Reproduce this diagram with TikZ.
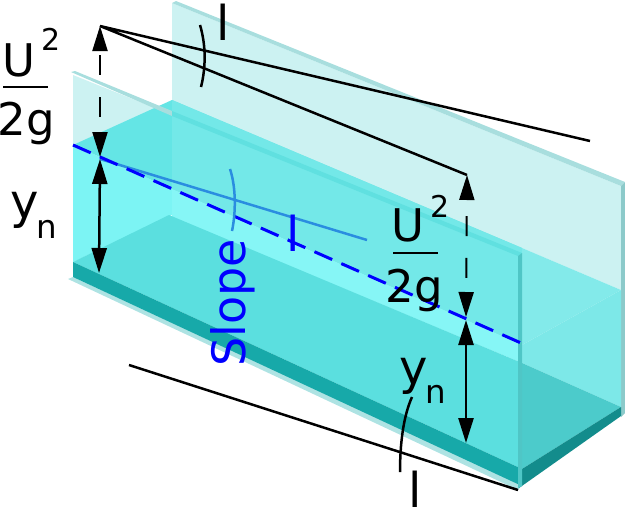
\documentclass[tikz,border=0pt]{standalone}
\usepackage{fontspec}
\setmainfont{DejaVu Sans}
\usetikzlibrary{arrows.meta}
\definecolor{wallpale}{HTML}{CCF2F2}
\definecolor{wallstrip}{HTML}{A8DEDE}
\definecolor{wallend}{HTML}{8CCACA}
\definecolor{frontend}{HTML}{4FC6C6}
\definecolor{surfleft}{HTML}{64E5E5}
\definecolor{surfback}{HTML}{73E8E8}
\definecolor{surfstrip}{HTML}{60E0E0}
\definecolor{brightleft}{HTML}{7CF4F4}
\definecolor{brightright}{HTML}{86F6F6}
\definecolor{floorfront}{HTML}{5BDFDF}
\definecolor{floorend}{HTML}{4CCBCB}
\definecolor{endupper}{HTML}{83EAEA}
\definecolor{endlower}{HTML}{7DE8E8}
\definecolor{slabfront}{HTML}{17A9A9}
\definecolor{slabend}{HTML}{138C8C}
\definecolor{slabpale}{HTML}{AEE3E3}
\definecolor{slopeline}{HTML}{2A8DE0}
\tikzset{
bigtxt/.style={font=\fontsize{28.8}{32}\selectfont,anchor=base,inner sep=0pt},
fractxt/.style={font=\fontsize{27}{32}\selectfont,anchor=base,inner sep=0pt},
subtxt/.style={font=\fontsize{19.5}{24}\selectfont,anchor=base,inner sep=0pt},
suptxt/.style={font=\fontsize{18}{22}\selectfont,anchor=base,inner sep=0pt},
head/.style={line width=1.5pt,{Triangle[length=15pt,width=9pt]}-{Triangle[length=15pt,width=9pt]}},
headdash/.style={head,dash pattern=on 12pt off 13pt}
}
\begin{document}
\begin{tikzpicture}[x=0.6pt,y=-0.6pt]
\useasboundingbox (0,0) rectangle (625,510);
% back wall
\fill[wallpale] (172,3) -- (621,186) -- (621,290) -- (172,100) -- cycle;
\fill[wallstrip] (172,3) -- (176,1) -- (625,182) -- (621,186) -- cycle;
\fill[wallend] (621,186) -- (625,182) -- (625,413) -- (621,417) -- cycle;
% front wall above the water
\fill[wallpale] (73,75) -- (522,256) -- (522,345) -- (73,145) -- cycle;
% water
\fill[surfleft] (73,145) -- (172,100) -- (522,248) -- (522,345) -- cycle;
\fill[surfback] (172,100) -- (522,248) -- (522,345) -- (172,189) -- cycle;
\fill[endupper] (522,248) -- (621,290) -- (522,345) -- cycle;
\fill[endlower] (522,345) -- (621,290) -- (621,407) -- (522,363) -- cycle;
\fill[brightleft] (73,145) -- (172,189) -- (172,215) -- (73,262) -- cycle;
\fill[brightright] (172,189) -- (522,345) -- (522,363) -- (172,217) -- cycle;
% floor
\fill[floorfront] (73,262) -- (169,215) -- (522,363) -- (522,469) -- cycle;
\fill[floorend] (522,363) -- (621,407) -- (522,469) -- cycle;
\fill[slabpale] (68,279) -- (73,277) -- (522,485) -- (518,490) -- cycle;
\fill[slabfront] (73,262) -- (522,469) -- (522,486) -- (73,277) -- cycle;
\fill[slabend] (522,469) -- (621,407) -- (621,416) -- (519,488) -- cycle;
% top edge of front wall
\fill[wallstrip] (71,72) -- (75,71) -- (172,111) -- (172,116) -- cycle;
\fill[surfstrip] (172,111) -- (522,253) -- (518,256) -- (172,116) -- cycle;
\fill[frontend] (518,256) -- (522,253) -- (522,486) -- (518,488) -- cycle;
% points of the lines
\coordinate (apex) at (100,26);
\coordinate (enerEnd) at (590,141);
\coordinate (enerMid) at (467,175);
\coordinate (surfL) at (100,157);
\coordinate (surfLb) at (100,159);
\coordinate (bedL) at (99,273);
\coordinate (surfR) at (466,317);
\coordinate (surfRb) at (466,320);
\coordinate (bedR) at (466,443);
\coordinate (slopeA) at (73,145);
\coordinate (slopeB) at (521,343);
\coordinate (slopeC) at (367,240);
\coordinate (bedA) at (129,365);
\coordinate (bedB) at (518,490);
\coordinate (fracLa) at (3,87);
\coordinate (fracLb) at (48,87);
\coordinate (fracRa) at (393,253);
\coordinate (fracRb) at (438,253);
% lines
\draw[line width=1.5pt] (enerEnd) -- (apex) -- (enerMid);
\draw[line width=1.5pt] (bedA) -- (bedB);
\draw[slopeline,line width=1.5pt] (surfLb) -- (slopeC);
\draw[blue,line width=1.8pt,dash pattern=on 11.6pt off 6pt] (slopeA) -- (slopeB);
\draw[headdash,line width=1.3pt,dash phase=22pt] (apex) -- (surfL);
\draw[head] (surfLb) -- (bedL);
\draw[headdash,line width=1.2pt,dash phase=15pt] (enerMid) -- (surfR);
\draw[head] (surfRb) -- (bedR);
% marks across the lines
\draw[line width=1.5pt] (200,25) .. controls (206,45) and (206,67) .. (201,87);
\draw[slopeline,line width=1.5pt] (230,169) .. controls (236,187) and (236,212) .. (232,231);
\draw[line width=1.5pt] (412,397) .. controls (403,417) and (400,445) .. (400,472);
\draw[line width=1.5pt] (fracLa) -- (fracLb);
\draw[line width=1.5pt] (fracRa) -- (fracRb);
% labels
\node[fractxt] (uL) at (18.5,76) {U};
\node[suptxt] (sqL) at (51,50) {2};
\node[fractxt] (gL) at (26.5,135) {2g};
\node[bigtxt] (yL) at (25,218) {y};
\node[subtxt] (nL) at (46.5,238) {n};
\node[fractxt] (uR) at (408,241) {U};
\node[suptxt] (sqR) at (440.5,217) {2};
\node[fractxt] (gR) at (414,302) {2g};
\node[bigtxt] (yR) at (414,384) {y};
\node[subtxt] (nR) at (436,403) {n};
\node[bigtxt] (markT) at (223,40) {l};
\node[bigtxt,blue] (markS) at (293,251) {l};
\node[bigtxt] (markB) at (415,507) {l};
\node[bigtxt,blue,font=\fontsize{27.6}{32}\selectfont,rotate=90] (slopeTxt) at (245,303) {Slope};
\end{tikzpicture}
\end{document}
